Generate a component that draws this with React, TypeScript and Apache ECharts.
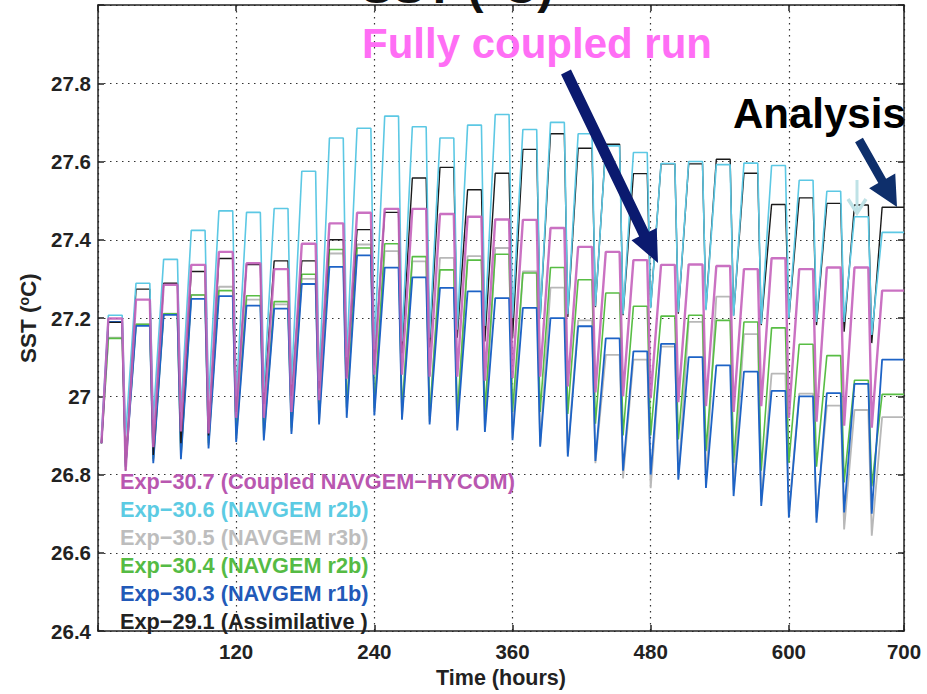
import React, { useEffect, useRef } from "react";
import * as echarts from "echarts";

// ---- data ----
const seriesNames = [
  "Exp\u221230.7 (Coupled NAVGEM\u2212HYCOM)",
  "Exp\u221230.6 (NAVGEM r2b)",
  "Exp\u221230.5 (NAVGEM r3b)",
  "Exp\u221230.4 (NAVGEM r2b)",
  "Exp\u221230.3 (NAVGEM r1b)",
  "Exp\u221229.1 (Assimilative )",
];
const xTickLabels = [120, 240, 360, 480, 600, 700];

// daily cycle layout (hours)
const CYCLE = 24;
const PLATEAU_START = 9;
const PLATEAU_END = 21;
const START_HOUR = 3;
const END_HOUR = 700;

const start = [26.88, 26.9, 26.88, 26.88, 26.88, 26.88];

// daily maxima (29 days) and minima (28 nights)
const peaks30_7 = [27.199, 27.247, 27.285, 27.336, 27.369, 27.34, 27.325, 27.39, 27.442, 27.469, 27.479, 27.479, 27.466, 27.459, 27.452, 27.451, 27.43, 27.382, 27.369, 27.348, 27.336, 27.337, 27.333, 27.325, 27.353, 27.325, 27.329, 27.329, 27.27];
const troughs30_7 = [26.81, 26.87, 26.91, 26.905, 26.945, 26.945, 26.96, 26.99, 27.045, 27.055, 27.055, 27.05, 27.05, 27.04, 27.047, 27.05, 27.025, 27.01, 27.0, 26.995, 26.985, 26.975, 26.96, 26.975, 26.945, 26.935, 26.925, 26.92];

const peaks30_6 = [27.207, 27.289, 27.35, 27.424, 27.474, 27.47, 27.48, 27.575, 27.66, 27.685, 27.716, 27.689, 27.66, 27.693, 27.72, 27.682, 27.7, 27.671, 27.64, 27.623, 27.595, 27.6, 27.592, 27.596, 27.59, 27.552, 27.524, 27.459, 27.419];
const troughs30_6 = [26.9, 26.94, 26.96, 26.99, 27.0, 27.01, 27.03, 27.04, 27.1, 27.12, 27.14, 27.15, 27.17, 27.18, 27.2, 27.2, 27.21, 27.23, 27.21, 27.225, 27.215, 27.22, 27.205, 27.185, 27.2, 27.19, 27.19, 27.157];

const peaks30_5 = [27.15, 27.184, 27.211, 27.259, 27.28, 27.247, 27.235, 27.3, 27.365, 27.388, 27.371, 27.345, 27.354, 27.358, 27.379, 27.319, 27.278, 27.194, 27.106, 27.094, 27.127, 27.19, 27.255, 27.159, 27.058, 27.007, 26.976, 26.965, 26.947];
const troughs30_5 = [26.825, 26.835, 26.845, 26.875, 26.89, 26.895, 26.91, 26.935, 26.972, 26.96, 26.95, 26.935, 26.92, 26.91, 26.895, 26.875, 26.855, 26.829, 26.79, 26.765, 26.79, 26.78, 26.76, 26.73, 26.7, 26.69, 26.66, 26.644];

const peaks30_4 = [27.148, 27.184, 27.211, 27.259, 27.27, 27.257, 27.242, 27.312, 27.375, 27.379, 27.39, 27.357, 27.323, 27.348, 27.363, 27.315, 27.329, 27.298, 27.264, 27.23, 27.205, 27.207, 27.194, 27.19, 27.175, 27.133, 27.104, 27.041, 27.005];
const troughs30_4 = [26.83, 26.84, 26.85, 26.88, 26.9, 26.9, 26.92, 26.95, 26.97, 26.97, 26.96, 26.95, 26.95, 26.96, 26.96, 26.96, 26.955, 26.93, 26.9, 26.9, 26.89, 26.86, 26.83, 26.81, 26.83, 26.82, 26.78, 26.77];

const peaks30_3 = [27.19, 27.18, 27.208, 27.249, 27.256, 27.232, 27.224, 27.287, 27.331, 27.36, 27.329, 27.304, 27.277, 27.268, 27.251, 27.226, 27.2, 27.179, 27.148, 27.115, 27.134, 27.1, 27.079, 27.063, 27.014, 27.0, 27.008, 27.032, 27.094];
const troughs30_3 = [26.82, 26.829, 26.839, 26.867, 26.883, 26.887, 26.904, 26.928, 26.945, 26.951, 26.94, 26.928, 26.913, 26.909, 26.888, 26.871, 26.846, 26.835, 26.81, 26.8, 26.787, 26.766, 26.745, 26.72, 26.69, 26.677, 26.703, 26.7];

const peaks29_1 = [27.189, 27.274, 27.289, 27.319, 27.352, 27.337, 27.346, 27.346, 27.4, 27.426, 27.47, 27.558, 27.585, 27.528, 27.57, 27.631, 27.671, 27.634, 27.644, 27.569, 27.594, 27.594, 27.606, 27.57, 27.49, 27.507, 27.493, 27.489, 27.483];
const troughs29_1 = [26.81, 26.85, 26.88, 26.9, 26.96, 26.98, 27.0, 27.02, 27.05, 27.08, 27.11, 27.125, 27.15, 27.14, 27.148, 27.199, 27.203, 27.228, 27.207, 27.228, 27.211, 27.224, 27.207, 27.182, 27.199, 27.182, 27.165, 27.136];

const allPeaks = [peaks30_7, peaks30_6, peaks30_5, peaks30_4, peaks30_3, peaks29_1];
const allTroughs = [troughs30_7, troughs30_6, troughs30_5, troughs30_4, troughs30_3, troughs29_1];

const lineColors = ["#c462bb", "#5cc8e4", "#b8b8b8", "#58bd44", "#1d63c6", "#1a1a1a"];
const legendColors = ["#b957b0", "#5ccbe3", "#bdbdbd", "#55bb44", "#2259b8", "#222222"];
const lineWidths = [2.4, 1.6, 1.8, 1.6, 1.8, 1.4];

function buildPoints(s0: number, peaks: number[], troughs: number[]) {
  const pts: number[][] = [[START_HOUR, s0]];
  for (let k = 0; k < peaks.length; k++) {
    const base = k * CYCLE;
    pts.push([base + PLATEAU_START, peaks[k]]);
    const endT = k < peaks.length - 1 ? base + PLATEAU_END : END_HOUR;
    pts.push([endT, peaks[k]]);
    if (k < troughs.length) pts.push([base + CYCLE, troughs[k]]);
  }
  return pts;
}

function arrowPoints(x1: number, y1: number, x2: number, y2: number, sw: number, hw: number, hl: number) {
  const dx = x2 - x1, dy = y2 - y1;
  const L = Math.hypot(dx, dy);
  const ux = dx / L, uy = dy / L;
  const px = -uy, py = ux;
  const bx = x2 - ux * hl, by = y2 - uy * hl;
  return [
    [x1 + (px * sw) / 2, y1 + (py * sw) / 2],
    [bx + (px * sw) / 2, by + (py * sw) / 2],
    [bx + px * hw, by + py * hw],
    [x2, y2],
    [bx - px * hw, by - py * hw],
    [bx - (px * sw) / 2, by - (py * sw) / 2],
    [x1 - (px * sw) / 2, y1 - (py * sw) / 2],
  ];
}

const FONT = "'Liberation Sans', Arial, Helvetica, sans-serif";

export default function App() {
  const ref = useRef<HTMLDivElement>(null);
  useEffect(() => {
    document.body.style.margin = "0";
    if (!ref.current) return;
    const chart = echarts.init(ref.current, null, { renderer: "svg" });

    const drawOrder = [2, 3, 4, 5, 1, 0];
    const series = drawOrder.map((i) => ({
      name: seriesNames[i],
      type: "line",
      data: buildPoints(start[i], allPeaks[i], allTroughs[i]),
      showSymbol: false,
      symbol: "none",
      color: lineColors[i],
      lineStyle: { color: lineColors[i], width: lineWidths[i], opacity: i === 0 ? 0.9 : 1 },
      z: 2 + drawOrder.indexOf(i),
    }));

    const axisLineStyle = { color: "#222", width: 1.5 };
    const labelStyle = { fontSize: 20.5, fontWeight: "bold", color: "#222", fontFamily: FONT };

    chart.setOption({
      animation: false,
      grid: { left: 98, right: 23, top: 5, bottom: 54, containLabel: false },
      xAxis: [
        {
          type: "value",
          position: "bottom",
          min: 0,
          max: 700,
          interval: 120,
          axisLine: { show: true, onZero: false, lineStyle: axisLineStyle },
          axisTick: { show: true, inside: true, length: 6, lineStyle: axisLineStyle },
          axisLabel: {
            ...labelStyle,
            margin: 10,
            customValues: xTickLabels,
            formatter: (v: number) => String(v),
          },
          splitLine: { show: true, lineStyle: { color: "#333", width: 1.2, type: [1.5, 4.5] } },
          name: "Time (hours)",
          nameLocation: "middle",
          nameGap: 33,
          nameTextStyle: { fontSize: 21.5, fontWeight: "bold", color: "#222", fontFamily: FONT },
        },
        {
          type: "value",
          position: "top",
          min: 0,
          max: 700,
          interval: 120,
          axisLine: { show: true, onZero: false, lineStyle: axisLineStyle },
          axisTick: { show: true, inside: true, length: 6, lineStyle: axisLineStyle },
          axisLabel: { show: false },
          splitLine: { show: false },
        },
      ],
      yAxis: [
        {
          type: "value",
          position: "left",
          min: 26.4,
          max: 28.0,
          interval: 0.2,
          axisLine: { show: true, onZero: false, lineStyle: axisLineStyle },
          axisTick: { show: true, inside: true, length: 6, lineStyle: axisLineStyle },
          axisLabel: {
            ...labelStyle,
            margin: 7,
            formatter: (v: number) => {
              const r = Math.round(v * 10) / 10;
              if (r >= 27.95) return "";
              return String(r);
            },
          },
          splitLine: { show: true, lineStyle: { color: "#333", width: 1.2, type: [1.5, 4.5] } },
          name: "SST ({sup|o}C)",
          nameLocation: "middle",
          nameGap: 55,
          nameRotate: 90,
          nameTextStyle: {
            fontSize: 22.5,
            fontWeight: "bold",
            color: "#222",
            fontFamily: FONT,
            rich: {
              sup: { fontSize: 14, fontWeight: "bold", color: "#222", fontFamily: FONT, padding: [0, 0, 10, 0] },
            },
          },
        },
        {
          type: "value",
          position: "right",
          min: 26.4,
          max: 28.0,
          interval: 0.2,
          axisLine: { show: true, onZero: false, lineStyle: axisLineStyle },
          axisTick: { show: true, inside: true, length: 6, lineStyle: axisLineStyle },
          axisLabel: { show: false },
          splitLine: { show: false },
        },
      ],
      legend: {
        show: true,
        orient: "vertical",
        left: 110,
        top: 465,
        icon: "none",
        itemWidth: 0,
        itemHeight: 14,
        itemGap: 6.1,
        selectedMode: false,
        textStyle: { fontSize: 21.7, fontWeight: "bold", fontFamily: FONT, lineHeight: 21.7 },
        data: seriesNames.map((n, i) => ({ name: n, textStyle: { color: legendColors[i] } })),
      },
      graphic: [
        {
          type: "text",
          x: 457,
          y: -14,
          z: 100,
          style: {
            text: "SST (\u00B0C)",
            fill: "#111",
            font: `bold 48px ${FONT}`,
            align: "center",
            verticalAlign: "middle",
          },
        },
        {
          type: "text",
          x: 362,
          y: 43.5,
          z: 100,
          style: {
            text: "Fully coupled run",
            fill: "#ff6ef5",
            font: `bold 42px ${FONT}`,
            align: "left",
            verticalAlign: "middle",
          },
        },
        {
          type: "text",
          x: 733,
          y: 113.5,
          z: 100,
          style: {
            text: "Analysis",
            fill: "#000",
            font: `bold 42px ${FONT}`,
            align: "left",
            verticalAlign: "middle",
          },
        },
        {
          type: "polygon",
          z: 99,
          shape: { points: arrowPoints(566, 72, 658, 263, 11, 14, 32) },
          style: { fill: "#0b1a6f" },
        },
        {
          type: "polygon",
          z: 99,
          shape: { points: arrowPoints(859, 140, 897, 207, 9, 15, 30) },
          style: { fill: "#0e2f6b" },
        },
        {
          type: "polyline",
          z: 99,
          shape: { points: [[857, 180], [857, 212]] },
          style: { stroke: "#bfe2e6", lineWidth: 3, fill: null },
        },
        {
          type: "polyline",
          z: 99,
          shape: { points: [[848, 199], [857, 213], [866, 199]] },
          style: { stroke: "#bfe2e6", lineWidth: 3.5, fill: null },
        },
      ],
      series,
    });
    return () => chart.dispose();
  }, []);
  return <div ref={ref} style={{ width: 927, height: 694 }} />;
}
